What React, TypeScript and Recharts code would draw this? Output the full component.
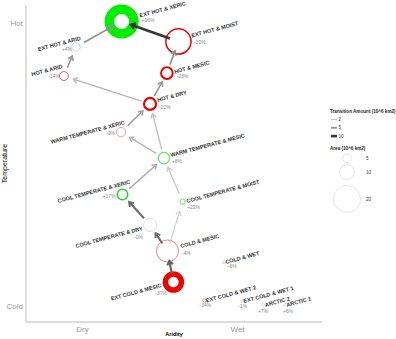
import { ReferenceLine, Scatter, ScatterChart, XAxis, YAxis } from 'recharts';

// biome nodes: aridity (x) and temperature (y) on a 0-100 index scale
const NAMES = [
  'EXT HOT & XERIC',
  'EXT HOT & MOIST',
  'EXT HOT & ARID',
  'HOT & ARID',
  'HOT & MESIC',
  'HOT & DRY',
  'WARM TEMPERATE & XERIC',
  'WARM TEMPERATE & MESIC',
  'COOL TEMPERATE & XERIC',
  'COOL TEMPERATE & MOIST',
  'COOL TEMPERATE & DRY',
  'COLD & MESIC',
  'EXT COLD & MESIC',
  'COLD & WET',
  'EXT COLD & WET 2',
  'EXT COLD & WET 1',
  'ARCTIC 2',
  'ARCTIC 1',
];
const ARIDITY = [32.3, 51.5, 16.9, 12.8, 47.6, 41.9, 32.1, 46.6, 32.6, 52.9, 41.9, 47.8, 49.8, 66.9, 60.3, 73.0, 80.1, 87.5];
const TEMPERATURE = [94.8, 88.5, 86.8, 77.6, 78.5, 68.8, 59.9, 51.7, 40.2, 38.0, 30.6, 22.4, 12.6, 18.8, 6.8, 6.6, 5.4, 5.4];
// area in 10^6 km2
const AREA = [18, 18.5, 4.8, 5.2, 7.4, 7.7, 5.6, 7.2, 6.5, 2, 8.5, 15.9, 11, 0.3, 0.8, 0.1, 0.1, 0.1];
// change in area, %
const CHANGE = [96, -10, 4, -14, -23, -22, -9, 8, 17, 22, -0.3, -4, -37, -6, -34, -1, 7, 6];

// transitions, amount in 10^6 km2
const EDGE_FROM = [
  'EXT HOT & MOIST', 'EXT HOT & ARID', 'HOT & ARID', 'HOT & MESIC', 'HOT & DRY', 'HOT & DRY',
  'WARM TEMPERATE & XERIC', 'WARM TEMPERATE & MESIC', 'WARM TEMPERATE & MESIC', 'COOL TEMPERATE & XERIC',
  'COOL TEMPERATE & MOIST', 'COOL TEMPERATE & DRY', 'COLD & MESIC', 'COLD & MESIC', 'EXT COLD & MESIC',
];
const EDGE_TO = [
  'EXT HOT & XERIC', 'EXT HOT & XERIC', 'EXT HOT & ARID', 'EXT HOT & MOIST', 'HOT & MESIC', 'HOT & ARID',
  'HOT & DRY', 'HOT & DRY', 'WARM TEMPERATE & XERIC', 'WARM TEMPERATE & MESIC',
  'WARM TEMPERATE & MESIC', 'COOL TEMPERATE & XERIC', 'COOL TEMPERATE & DRY', 'COOL TEMPERATE & MOIST', 'COLD & MESIC',
];
const EDGE_AMOUNT = [10, 5, 4.5, 5, 4.5, 3, 4, 2.5, 3, 3.5, 2, 7, 7, 1.5, 7.5];

const X_TICKS = [19.1, 71.5];
const X_TICK_LABELS = ['Dry', 'Wet'];
const Y_TICKS = [5, 94.3];
const Y_TICK_LABELS = ['Cold', 'Hot'];

const LEGEND_AMOUNTS = [2, 5, 10];
const LEGEND_AREAS = [5, 10, 20];

const nodes = NAMES.map((name, i) => ({ name, x: ARIDITY[i], y: TEMPERATURE[i], area: AREA[i], change: CHANGE[i] }));

const radius = (area: number) => 1.3 + 0.61 * area;
const edgeColor = (amount: number) => {
  const v = Math.max(50, Math.round(235 - amount * 18));
  return `rgb(${v},${v},${v})`;
};
const edgeWidth = (amount: number) => 0.9 + amount * 0.17;
const fmtChange = (v: number) => `${v < 0 ? '-' : '+'}${Math.round(Math.abs(v))}%`;

const NODE_STYLE: Record<string, { color: string; width: number }> = {
  'EXT HOT & XERIC': { color: '#00ee00', width: 9.5 },
  'EXT HOT & MOIST': { color: '#ee0000', width: 1.5 },
  'EXT HOT & ARID': { color: '#c4e6c4', width: 1 },
  'HOT & ARID': { color: '#e25a5a', width: 1 },
  'HOT & MESIC': { color: '#ee0000', width: 2 },
  'HOT & DRY': { color: '#ee0000', width: 2.2 },
  'WARM TEMPERATE & XERIC': { color: '#f0a0a0', width: 1 },
  'WARM TEMPERATE & MESIC': { color: '#5ee65e', width: 1.3 },
  'COOL TEMPERATE & XERIC': { color: '#22dd22', width: 1.5 },
  'COOL TEMPERATE & MOIST': { color: '#88e888', width: 1.2 },
  'COOL TEMPERATE & DRY': { color: '#dddddd', width: 1 },
  'COLD & MESIC': { color: '#f08080', width: 1 },
  'EXT COLD & MESIC': { color: '#ee0000', width: 5.5 },
  'COLD & WET': { color: '#cccccc', width: 0.8 },
  'EXT COLD & WET 2': { color: '#e06060', width: 0.8 },
  'EXT COLD & WET 1': { color: '#cccccc', width: 0.6 },
  'ARCTIC 2': { color: '#cccccc', width: 0.6 },
  'ARCTIC 1': { color: '#cccccc', width: 0.6 },
};

// label offsets from the node centre, px: [name dx, name dy, pct dx, pct dy]
const LABEL_POS: Record<string, { left?: boolean; o: number[] }> = {
  'EXT HOT & XERIC': { o: [18.5, -4, 20, 0.5] },
  'EXT HOT & MOIST': { o: [13.5, -4, 15.5, 2.5] },
  'EXT HOT & ARID': { left: true, o: [5, -7, -4, 4] },
  'HOT & ARID': { left: true, o: [-1, -8, -4, 2] },
  'HOT & MESIC': { o: [8, 0.5, 10, 5] },
  'HOT & DRY': { o: [8, -2, 9, 5] },
  'WARM TEMPERATE & XERIC': { left: true, o: [4, -8, -6, 2.5] },
  'WARM TEMPERATE & MESIC': { o: [7, -1, 8, 5] },
  'COOL TEMPERATE & XERIC': { left: true, o: [8, -11, -7, 3] },
  'COOL TEMPERATE & MOIST': { o: [4.5, 1.5, 4.5, 7.5] },
  'COOL TEMPERATE & DRY': { left: true, o: [-7, 5, -7, 14] },
  'COLD & MESIC': { o: [13.5, -3, 14.5, 4.5] },
  'EXT COLD & MESIC': { left: true, o: [-11.5, 5, -6.5, 13] },
  'COLD & WET': { o: [2, 1.5, 3.7, 5.5] },
  'EXT COLD & WET 2': { o: [2, 2, -5, 6.5] },
  'EXT COLD & WET 1': { o: [2, 2, -4, 7] },
  'ARCTIC 2': { o: [2.5, 2, -5, 8] },
  'ARCTIC 1': { o: [2, 2, -2, 8] },
};

function NodeShape(props: any) {
  const { cx, cy, payload } = props;
  const st = NODE_STYLE[payload.name];
  const lp = LABEL_POS[payload.name];
  const anchor = lp.left ? 'end' : 'start';
  const lx = cx + lp.o[0];
  const ly = cy + lp.o[1];
  return (
    <g>
      <circle cx={cx} cy={cy} r={radius(payload.area)} fill="none" stroke={st.color} strokeWidth={st.width} />
      <text x={lx} y={ly} textAnchor={anchor} transform={`rotate(-15 ${lx} ${ly})`} fontSize={5.5} fontWeight="bold" fill="#333">
        {payload.name}
      </text>
      <text x={cx + lp.o[2]} y={cy + lp.o[3]} textAnchor={anchor} fontSize={5} fill="#888">
        {fmtChange(payload.change)}
      </text>
    </g>
  );
}

const arrow = (amount: number) => (p: any) => {
  const { x1, y1, x2, y2 } = p;
  const len = Math.hypot(x2 - x1, y2 - y1) || 1;
  const ux = (x2 - x1) / len;
  const uy = (y2 - y1) / len;
  const sx = x1 + ux * 9;
  const sy = y1 + uy * 9;
  const ex = x2 - ux * 10;
  const ey = y2 - uy * 10;
  const a = 0.6;
  const h = 5;
  const bx = -ux;
  const by = -uy;
  const p1 = [ex + h * (bx * Math.cos(a) - by * Math.sin(a)), ey + h * (bx * Math.sin(a) + by * Math.cos(a))];
  const p2 = [ex + h * (bx * Math.cos(-a) - by * Math.sin(-a)), ey + h * (bx * Math.sin(-a) + by * Math.cos(-a))];
  const color = edgeColor(amount);
  const w = edgeWidth(amount);
  return (
    <g>
      <line x1={sx} y1={sy} x2={ex} y2={ey} stroke={color} strokeWidth={w} />
      <polyline points={`${p1[0]},${p1[1]} ${ex},${ey} ${p2[0]},${p2[1]}`} fill="none" stroke={color} strokeWidth={w} />
    </g>
  );
};

const nodeOf = (name: string) => nodes[NAMES.indexOf(name)];

export default function App() {
  return (
    <div style={{ position: 'absolute', left: 0, top: 0, width: 396, height: 339, background: '#fff', fontFamily: '"Liberation Sans", Arial, sans-serif' }}>
      <ScatterChart width={396} height={339} margin={{ top: 5, right: 74, bottom: 0, left: 0 }}>
        <XAxis
          type="number"
          dataKey="x"
          domain={[0, 100]}
          ticks={X_TICKS}
          tickFormatter={(v: number) => X_TICK_LABELS[X_TICKS.indexOf(v)]}
          tickLine={false}
          tickSize={0}
          tickMargin={4}
          height={17}
          axisLine={{ stroke: '#bbb' }}
          tick={{ fontSize: 8, fill: '#999' }}
          label={{ value: 'Aridity', position: 'insideBottom', offset: 3, fontSize: 5.5, fontWeight: 'bold', fill: '#000' }}
        />
        <YAxis
          type="number"
          dataKey="y"
          domain={[0, 100]}
          ticks={Y_TICKS}
          tickFormatter={(v: number) => Y_TICK_LABELS[Y_TICKS.indexOf(v)]}
          tickLine={false}
          tickSize={0}
          tickMargin={3}
          width={26}
          axisLine={{ stroke: '#bbb' }}
          tick={{ fontSize: 8, fill: '#999' }}
          label={{ value: 'Temperature', angle: -90, position: 'insideLeft', offset: 5, fontSize: 7, fill: '#000', style: { textAnchor: 'middle' } }}
        />
        <Scatter data={nodes} shape={NodeShape} isAnimationActive={false} />
        {EDGE_FROM.map((from, i) => {
          const a = nodeOf(from);
          const b = nodeOf(EDGE_TO[i]);
          return (
            <ReferenceLine
              key={from + EDGE_TO[i]}
              segment={[{ x: a.x, y: a.y }, { x: b.x, y: b.y }]}
              shape={arrow(EDGE_AMOUNT[i])}
              zIndex={700}
            />
          );
        })}
      </ScatterChart>
      <svg width={396} height={339} style={{ position: 'absolute', left: 0, top: 0, pointerEvents: 'none' }}>
        <text x={330} y={112.5} fontSize={4.6} fontWeight="bold" fill="#222">Transition Amount (10^6 km2)</text>
        {LEGEND_AMOUNTS.map((amt, i) => {
          const y = 119.5 + i * 8.3;
          return (
            <g key={amt}>
              <line x1={331} x2={337} y1={y} y2={y} stroke={edgeColor(amt)} strokeWidth={edgeWidth(amt)} />
              <text x={338.5} y={y + 1.6} fontSize={4.5} fill="#333">{amt}</text>
            </g>
          );
        })}
        <text x={330} y={150} fontSize={4.6} fontWeight="bold" fill="#222">Area (10^6 km2)</text>
        {LEGEND_AREAS.map((ar, i) => {
          const cy = [158.3, 172, 199][i];
          return (
            <g key={ar}>
              <circle cx={347} cy={cy} r={radius(ar)} fill="none" stroke="#ddd" strokeWidth={0.8} />
              <text x={366} y={cy + 1.6} fontSize={4.5} fill="#333">{ar}</text>
            </g>
          );
        })}
      </svg>
    </div>
  );
}
